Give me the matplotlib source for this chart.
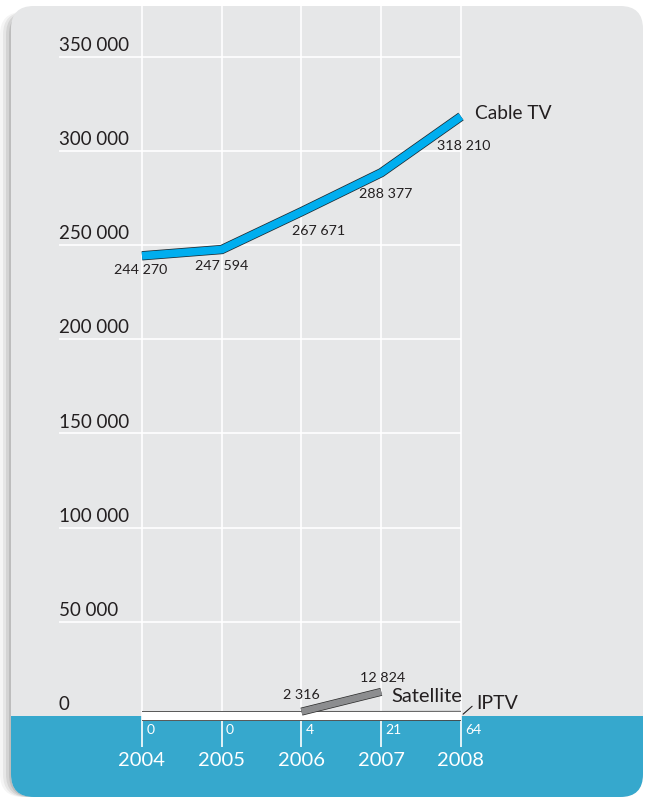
#!/usr/bin/env python3
import matplotlib
matplotlib.use("Agg")
import matplotlib.pyplot as plt
import matplotlib.patheffects as pe
from matplotlib.patches import FancyBboxPatch, Rectangle

years = [2004, 2005, 2006, 2007, 2008]
cable = [244270, 247594, 267671, 288377, 318210]
cable_labels = ["244 270", "247 594", "267 671", "288 377", "318 210"]
sat_years = [2006, 2007]
satellite = [2316, 12824]
sat_labels = ["2 316", "12 824"]
iptv = [0, 0, 4, 21, 64]
iptv_labels = ["0", "0", "4", "21", "64"]
yticks = [0, 50000, 100000, 150000, 200000, 250000, 300000, 350000]
ytick_labels = ["0", "50 000", "100 000", "150 000", "200 000",
                "250 000", "300 000", "350 000"]

W, H = 649, 799
PANEL = "#e6e7e8"
BAND = "#36a8cd"
CABLE = "#00aeef"
INK = "#231f20"

plt.rcParams['font.family'] = ['Lato', 'DejaVu Sans']

fig = plt.figure(figsize=(W / 100, H / 100), dpi=100)
ax = fig.add_axes([0, 0, 1, 1])
ax.set_axis_off()

# pixel mapping: 2004 -> x=142, 2008 -> x=461 ; 0 -> y=716 (from top), 50 000 per 94.2 px
px_year = (461 - 142) / 4
px_val = 94.2 / 50000
ax.set_xlim(2004 - 142 / px_year, 2004 + (W - 142) / px_year)
ax.set_ylim(-(H - 716) / px_val, 716 / px_val)


def fx(px):
    return px / W


def fy(py):
    return 1 - py / H


# shadow + panel
for off, a in [(11, 0.04), (8, 0.06), (5, 0.08), (2, 0.1)]:
    sh = FancyBboxPatch((fx(11 - off), fy(797)), fx(632), 785 / H,
                        boxstyle="round,pad=0,rounding_size=0.035",
                        transform=ax.transAxes, fc="#000000", ec="none",
                        alpha=a, zorder=0, mutation_aspect=W / H)
    ax.add_patch(sh)
panel = FancyBboxPatch((fx(11), fy(797)), fx(632), 791 / H,
                       boxstyle="round,pad=0,rounding_size=0.035",
                       transform=ax.transAxes, fc=PANEL, ec="none", zorder=1,
                       mutation_aspect=W / H)
ax.add_patch(panel)
band = Rectangle((0, 0), 1, fy(716), transform=ax.transAxes, fc=BAND,
                 ec="none", zorder=2)
ax.add_patch(band)
band.set_clip_path(panel)

# grid
x0 = ax.get_xlim()[0] + 59 / px_year
ax.hlines(yticks[1:], x0, years[-1], color="white", lw=1.2, zorder=3)
vl = ax.vlines(years, fy(747), fy(6), transform=ax.get_xaxis_transform(),
               color="white", lw=1.2, zorder=3)
vl.set_clip_path(panel)

for v, t in zip(yticks, ytick_labels):
    ax.annotate(t, (x0, v), xytext=(0, 2), textcoords="offset points",
                ha="left", va="bottom", fontsize=13.5, color=INK, zorder=5)

# year labels
for yr in years:
    ax.annotate(str(yr), (yr, 0), xytext=(0, -32), textcoords="offset points",
                ha="center", va="center", fontsize=14.5, color="white", zorder=5)

# IPTV
ax.plot(years, iptv, color="white", lw=6.0, solid_capstyle="butt", zorder=6,
        path_effects=[pe.Stroke(linewidth=7.2, foreground="#3a3a3a",
                                capstyle="butt"),
                      pe.Normal()])
for yr, v, t in zip(years, iptv, iptv_labels):
    ax.annotate(t, (yr, v), xytext=(3, -10), textcoords="offset points",
                ha="left", va="center", fontsize=10, color="white", zorder=7)
ax.annotate("", (years[-1], 0), xytext=(8, 7), textcoords="offset points",
            arrowprops=dict(arrowstyle="-", color=INK, lw=0.8,
                            shrinkA=0, shrinkB=2), zorder=7)
ax.annotate("IPTV", (years[-1], 0), xytext=(11, 9), textcoords="offset points",
            ha="left", va="center", fontsize=14, color=INK, zorder=7)

# Satellite
ax.plot(sat_years, satellite, color="#8c8d8f", lw=4.8, solid_capstyle="butt",
        zorder=8, path_effects=[pe.Stroke(linewidth=5.8, foreground="#2a2a2a",
                                          capstyle="butt"),
                                pe.Normal()])
sat_off = [(0, 12), (1, 10)]
for yr, v, t, o in zip(sat_years, satellite, sat_labels, sat_off):
    ax.annotate(t, (yr, v), xytext=o, textcoords="offset points",
                ha="center", va="center", fontsize=10.3, color=INK, zorder=9)
ax.annotate("Satellite", (sat_years[-1], satellite[-1]), xytext=(7, -3),
            textcoords="offset points", ha="left", va="center",
            fontsize=14.5, color=INK, zorder=9)

# Cable TV
ax.plot(years, cable, color=CABLE, lw=5.6, solid_capstyle="butt",
        solid_joinstyle="miter", zorder=10,
        path_effects=[pe.Stroke(linewidth=6.7, foreground="#1d2b33",
                                capstyle="butt", joinstyle="miter"),
                      pe.Normal()])
cab_off = [(-1, -10), (0, -12), (12, -14), (3, -15), (2, -21)]
for yr, v, t, o in zip(years, cable, cable_labels, cab_off):
    ax.annotate(t, (yr, v), xytext=o, textcoords="offset points",
                ha="center", va="center", fontsize=10.3, color=INK, zorder=11)
ax.annotate("Cable TV", (years[-1], cable[-1]), xytext=(10, 2),
            textcoords="offset points", ha="left", va="center",
            fontsize=13.8, color=INK, zorder=11)

fig.savefig("out.png", dpi=100, facecolor="white")
